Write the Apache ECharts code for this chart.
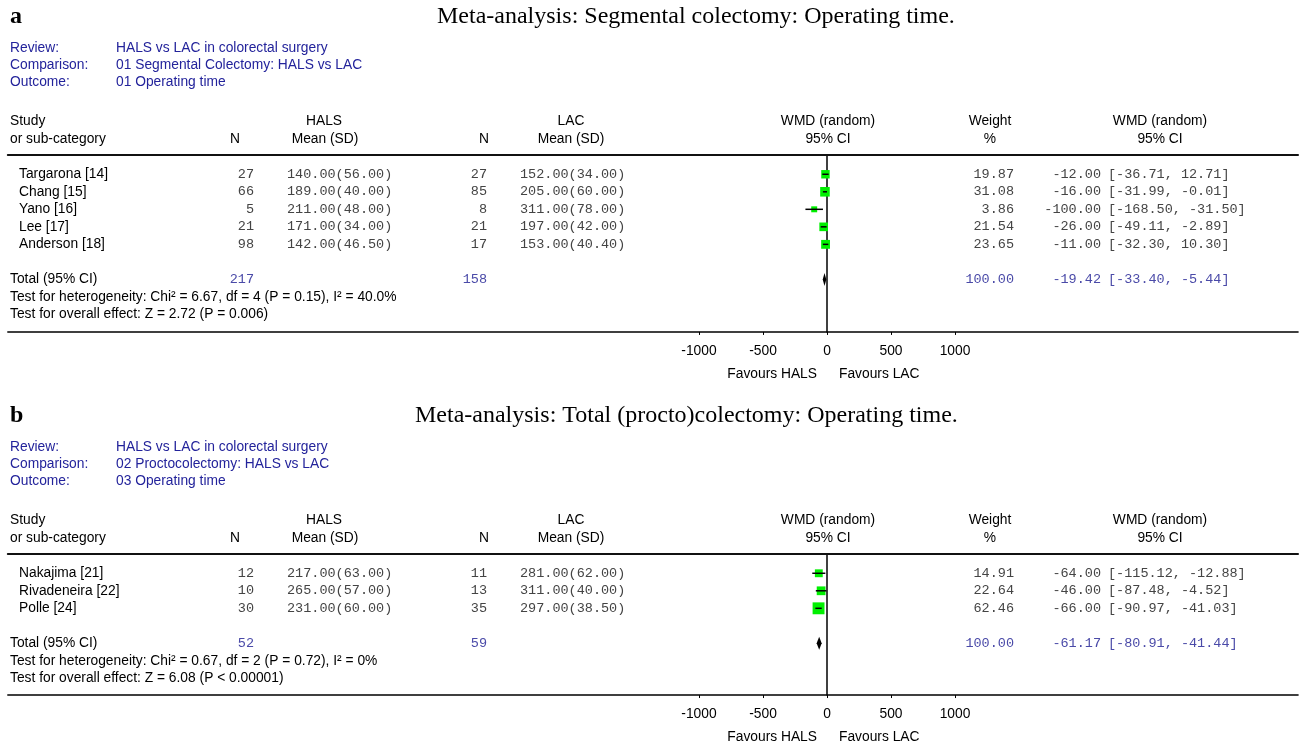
<!DOCTYPE html>
<html><head><meta charset="utf-8">
<script src="https://cdn.jsdelivr.net/npm/echarts@6/dist/echarts.min.js"></script>
<style>html,body{margin:0;padding:0;background:#fff}#c{width:1299px;height:743px}</style>
</head><body><div id="c"></div>
<script>
// ---------- DATA ----------
const xTicks = [-1000, -500, 0, 500, 1000];

// Panel a
const studiesA = ['Targarona [14]', 'Chang [15]', 'Yano [16]', 'Lee [17]', 'Anderson [18]'];
const halsNA = [27, 66, 5, 21, 98];
const halsMeanA = [140, 189, 211, 171, 142];
const halsSdA = [56, 40, 48, 34, 46.5];
const lacNA = [27, 85, 8, 21, 17];
const lacMeanA = [152, 205, 311, 197, 153];
const lacSdA = [34, 60, 78, 42, 40.4];
const weightA = [19.87, 31.08, 3.86, 21.54, 23.65];
const wmdA = [-12.00, -16.00, -100.00, -26.00, -11.00];
const lowA = [-36.71, -31.99, -168.50, -49.11, -32.30];
const highA = [12.71, -0.01, -31.50, -2.89, 10.30];
const totalNA = [217, 158];
const totalWmdA = [-19.42, -33.40, -5.44];
const hetA = 'Test for heterogeneity: Chi\u00B2 = 6.67, df = 4 (P = 0.15), I\u00B2 = 40.0%';
const overallA = 'Test for overall effect: Z = 2.72 (P = 0.006)';
const headA = ['Meta-analysis: Segmental colectomy: Operating time.', 'HALS vs LAC in colorectal surgery', '01 Segmental Colectomy: HALS vs LAC', '01 Operating time'];

// Panel b
const studiesB = ['Nakajima [21]', 'Rivadeneira [22]', 'Polle [24]'];
const halsNB = [12, 10, 30];
const halsMeanB = [217, 265, 231];
const halsSdB = [63, 57, 60];
const lacNB = [11, 13, 35];
const lacMeanB = [281, 311, 297];
const lacSdB = [62, 40, 38.5];
const weightB = [14.91, 22.64, 62.46];
const wmdB = [-64.00, -46.00, -66.00];
const lowB = [-115.12, -87.48, -90.97];
const highB = [-12.88, -4.52, -41.03];
const totalNB = [52, 59];
const totalWmdB = [-61.17, -80.91, -41.44];
const hetB = 'Test for heterogeneity: Chi\u00B2 = 0.67, df = 2 (P = 0.72), I\u00B2 = 0%';
const overallB = 'Test for overall effect: Z = 6.08 (P < 0.00001)';
const headB = ['Meta-analysis: Total (procto)colectomy: Operating time.', 'HALS vs LAC in colorectal surgery', '02 Proctocolectomy: HALS vs LAC', '03 Operating time'];

// ---------- STYLE ----------
const SANS = '"Liberation Sans", Arial, sans-serif';
const FS = 13.8;
const FONT = FS + 'px ' + SANS;
const MONO = '13.5px "Liberation Mono", "Courier New", monospace';
const SERIF = '"Liberation Serif", "Times New Roman", serif';
const BLUE = '#23239b';
const TBLUE = '#4a4aa8';
const GRAY = '#444444';
const GREEN = '#00f000';

const XMIN = -6400, XMAX = 3680, GLEFT = 7.8, GWIDTH = 1290.24;
const ROWPX = 17.52, YMIN = -1.1;

const panels = [
  {letter: 'a', head: headA, off: 0, titleX: 437, top: 155, ymax: 9,
   studies: studiesA, hN: halsNA, hM: halsMeanA, hS: halsSdA, lN: lacNA, lM: lacMeanA, lS: lacSdA,
   w: weightA, est: wmdA, lo: lowA, hi: highA, tN: totalNA, tW: totalWmdA, het: hetA, ov: overallA},
  {letter: 'b', head: headB, off: 399, titleX: 415, top: 554, ymax: 6.95,
   studies: studiesB, hN: halsNB, hM: halsMeanB, hS: halsSdB, lN: lacNB, lM: lacMeanB, lS: lacSdB,
   w: weightB, est: wmdB, lo: lowB, hi: highB, tN: totalNB, tW: totalWmdB, het: hetB, ov: overallB}
];

function txt(text, x, y, font, fill, align) {
  return {type: 'text', x: x, y: y, silent: true,
    style: {text: text, font: font, fill: fill, align: align || 'left', verticalAlign: 'middle'}};
}
const f2 = v => v.toFixed(2);

const grids = [], xAxes = [], yAxes = [], series = [], graphics = [];

panels.forEach((p, k) => {
  const h = (p.ymax - YMIN) * ROWPX;
  grids.push({left: GLEFT, width: GWIDTH, top: p.top, height: h});
  xAxes.push({type: 'value', gridIndex: k, position: 'bottom', min: XMIN, max: XMAX,
    axisLine: {onZero: false, lineStyle: {color: '#000', width: 1.5}},
    axisTick: {customValues: xTicks, length: 3, lineStyle: {color: '#000', width: 1}},
    axisLabel: {customValues: xTicks, margin: 12, color: '#000', fontSize: FS, fontFamily: SANS,
      formatter: v => String(v)},
    splitLine: {show: false}});
  xAxes.push({type: 'value', gridIndex: k, position: 'top', min: XMIN, max: XMAX,
    axisLine: {onZero: false, lineStyle: {color: '#111', width: 2}},
    axisTick: {show: false}, axisLabel: {show: false}, splitLine: {show: false}});
  yAxes.push({type: 'value', gridIndex: k, inverse: true, min: YMIN, max: p.ymax,
    axisLine: {show: true, onZero: true, lineStyle: {color: '#000', width: 1.5}},
    axisTick: {show: false}, axisLabel: {show: false}, splitLine: {show: false}});

  const xi = k * 2, yi = k;
  // table text rows
  series.push({type: 'custom', xAxisIndex: xi, yAxisIndex: yi, silent: true,
    data: p.studies.map((s, i) => [0, i]),
    renderItem: (params, api) => {
      const i = params.dataIndex;
      const y = api.coord([0, api.value(1)])[1];
      return {type: 'group', children: [
        txt(p.studies[i], 19, y, FONT, '#000', 'left'),
        txt(String(p.hN[i]), 254, y, MONO, GRAY, 'right'),
        txt(f2(p.hM[i]) + '(' + f2(p.hS[i]) + ')', 287, y, MONO, GRAY, 'left'),
        txt(String(p.lN[i]), 487, y, MONO, GRAY, 'right'),
        txt(f2(p.lM[i]) + '(' + f2(p.lS[i]) + ')', 520, y, MONO, GRAY, 'left'),
        txt(f2(p.w[i]), 1014, y, MONO, GRAY, 'right'),
        txt(f2(p.est[i]), 1101, y, MONO, GRAY, 'right'),
        txt('[' + f2(p.lo[i]) + ', ' + f2(p.hi[i]) + ']', 1108, y, MONO, GRAY, 'left')
      ]};
    }});
  // markers
  series.push({type: 'custom', xAxisIndex: xi, yAxisIndex: yi, silent: true,
    data: p.est.map((v, i) => [v, i]),
    renderItem: (params, api) => {
      const i = params.dataIndex;
      const c = api.coord([api.value(0), api.value(1)]);
      const a = api.coord([p.lo[i], api.value(1)]);
      const b = api.coord([p.hi[i], api.value(1)]);
      const s = 4 + Math.sqrt(p.w[i]);
      return {type: 'group', children: [
        {type: 'rect', shape: {x: c[0] - s / 2, y: c[1] - s / 2, width: s, height: s}, style: {fill: GREEN}},
        {type: 'line', shape: {x1: a[0], y1: c[1], x2: b[0], y2: c[1]}, style: {stroke: '#000', lineWidth: 1.5}}
      ]};
    }});
  // total row + tests
  const tRow = p.studies.length + 1;
  series.push({type: 'custom', xAxisIndex: xi, yAxisIndex: yi, silent: true,
    data: [[p.tW[0], tRow]],
    renderItem: (params, api) => {
      const r = api.value(1);
      const c = api.coord([api.value(0), r]);
      const a = api.coord([p.tW[1], r]);
      const b = api.coord([p.tW[2], r]);
      const y1 = api.coord([0, r + 1])[1], y2 = api.coord([0, r + 2])[1];
      return {type: 'group', children: [
        {type: 'polygon', shape: {points: [[a[0], c[1]], [c[0], c[1] - 6.5], [b[0], c[1]], [c[0], c[1] + 6.5]]},
          style: {fill: '#000'}},
        txt('Total (95% CI)', 10, c[1], FONT, '#000', 'left'),
        txt(String(p.tN[0]), 254, c[1], MONO, TBLUE, 'right'),
        txt(String(p.tN[1]), 487, c[1], MONO, TBLUE, 'right'),
        txt(f2(100), 1014, c[1], MONO, TBLUE, 'right'),
        txt(f2(p.tW[0]), 1101, c[1], MONO, TBLUE, 'right'),
        txt('[' + f2(p.tW[1]) + ', ' + f2(p.tW[2]) + ']', 1108, c[1], MONO, TBLUE, 'left'),
        txt(p.het, 10, y1, FONT, '#000', 'left'),
        txt(p.ov, 10, y2, FONT, '#000', 'left')
      ]};
    }});

  // static header text
  const o = p.off;
  const axisY = p.top + h;
  graphics.push(
    txt(p.letter, 10, 17 + o, 'bold 24px ' + SERIF, '#000', 'left'),
    txt(p.head[0], p.titleX, 17 + o, '24px ' + SERIF, '#000', 'left'),
    txt('Review:', 10, 48 + o, FONT, BLUE), txt(p.head[1], 116, 48 + o, FONT, BLUE),
    txt('Comparison:', 10, 65 + o, FONT, BLUE), txt(p.head[2], 116, 65 + o, FONT, BLUE),
    txt('Outcome:', 10, 82 + o, FONT, BLUE), txt(p.head[3], 116, 82 + o, FONT, BLUE),
    txt('Study', 10, 121 + o, FONT, '#000'), txt('or sub-category', 10, 139 + o, FONT, '#000'),
    txt('N', 235, 139 + o, FONT, '#000', 'center'),
    txt('HALS', 324, 121 + o, FONT, '#000', 'center'), txt('Mean (SD)', 325, 139 + o, FONT, '#000', 'center'),
    txt('N', 484, 139 + o, FONT, '#000', 'center'),
    txt('LAC', 571, 121 + o, FONT, '#000', 'center'), txt('Mean (SD)', 571, 139 + o, FONT, '#000', 'center'),
    txt('WMD (random)', 828, 121 + o, FONT, '#000', 'center'), txt('95% CI', 828, 139 + o, FONT, '#000', 'center'),
    txt('Weight', 990, 121 + o, FONT, '#000', 'center'), txt('%', 990, 139 + o, FONT, '#000', 'center'),
    txt('WMD (random)', 1160, 121 + o, FONT, '#000', 'center'), txt('95% CI', 1160, 139 + o, FONT, '#000', 'center'),
    txt('Favours HALS', 817, axisY + 42, FONT, '#000', 'right'),
    txt('Favours LAC', 839, axisY + 42, FONT, '#000', 'left')
  );
});

const chart = echarts.init(document.getElementById('c'), null, {renderer: 'canvas'});
chart.setOption({
  animation: false,
  backgroundColor: '#fff',
  grid: grids, xAxis: xAxes, yAxis: yAxes, series: series,
  graphic: {elements: graphics}
});
</script></body></html>
